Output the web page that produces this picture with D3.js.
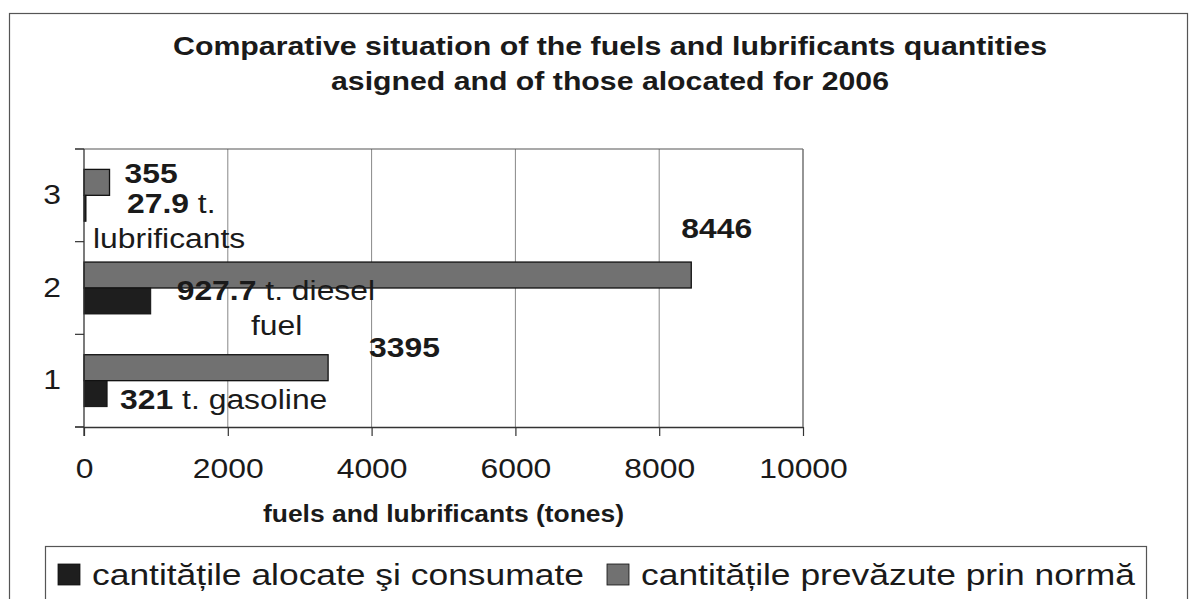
<!DOCTYPE html>
<html>
<head>
<meta charset="utf-8">
<script src="https://cdn.jsdelivr.net/npm/d3@7"></script>
<style>
  body { margin: 0; background: #fff; }
  svg { font-family: "Liberation Sans", Arial, sans-serif; display: block; }
</style>
</head>
<body>
<div class="chart-holder"></div>
<script>
// data
const categories = ["1", "2", "3"];
const seriesNames = ["cantitățile alocate şi consumate", "cantitățile prevăzute prin normă"];
const allocated = [321, 927.7, 27.9];
const norm = [3395, 8446, 355];
const xTicks = [0, 2000, 4000, 6000, 8000, 10000];
const titleLines = [
  "Comparative situation of the fuels and lubrificants quantities",
  "asigned and of those alocated for 2006"
];
const xAxisTitle = "fuels and lubrificants (tones)";
const normLabels = ["3395", "8446", "355"];
const allocatedLabels = [["321", " t. gasoline"], ["927.7", " t. diesel"], ["27.9", " t."]];
const extraLabels = ["", "fuel", "lubrificants"];

function chart() {
  const width = 1193;
  const height = 599;
  const kx = 1.18; // the scan is a bit wider than the font

  const svg = d3.select(".chart-holder")
    .append("svg")
    .attr("width", width)
    .attr("height", height);

  // widen text horizontally like the scanned original
  function stretch(sel, k) {
    sel.each(function () {
      const w = this.getComputedTextLength();
      d3.select(this).attr("textLength", w * k).attr("lengthAdjust", "spacingAndGlyphs");
    });
  }

  // outer frame
  svg.append("rect")
    .attr("x", 9.5).attr("y", 13.5)
    .attr("width", 1178).attr("height", 600)
    .attr("fill", "none").attr("stroke", "#555").attr("stroke-width", 1.2);

  // title
  const titleLen = [874, 558];
  svg.selectAll(".title")
    .data(titleLines)
    .join("text")
    .attr("class", "title")
    .attr("x", 610)
    .attr("y", (d, i) => 55 + i * 35)
    .attr("text-anchor", "middle")
    .attr("font-size", 26)
    .attr("font-weight", "bold")
    .attr("fill", "#1a1a1a")
    .attr("textLength", (d, i) => titleLen[i])
    .attr("lengthAdjust", "spacingAndGlyphs")
    .text(d => d);

  const plot = { left: 84, right: 803, top: 149, bottom: 427 };

  const x = d3.scaleLinear()
    .domain([0, 10000])
    .range([plot.left, plot.right]);

  const y = d3.scaleBand()
    .domain(categories)
    .range([plot.bottom, plot.top])
    .paddingInner(0.44)
    .paddingOuter(0.22);

  const sub = d3.scaleBand()
    .domain(["norm", "allocated"])
    .range([0, y.bandwidth()]);

  // gridlines
  svg.append("g")
    .selectAll("line")
    .data(xTicks.slice(1))
    .join("line")
    .attr("x1", d => x(d)).attr("x2", d => x(d))
    .attr("y1", plot.top).attr("y2", plot.bottom)
    .attr("stroke", "#888").attr("stroke-width", 1);

  // plot top edge (continues into the top category tick)
  svg.append("line")
    .attr("x1", plot.left - 9).attr("x2", plot.right)
    .attr("y1", plot.top).attr("y2", plot.top)
    .attr("stroke", "#555").attr("stroke-width", 1.2);

  // bars
  const rows = categories.map((c, i) => ({ cat: c, norm: norm[i], allocated: allocated[i] }));

  svg.append("g")
    .selectAll("rect")
    .data(rows)
    .join("rect")
    .attr("x", x(0))
    .attr("y", d => y(d.cat) + sub("norm"))
    .attr("width", d => x(d.norm) - x(0))
    .attr("height", sub.bandwidth())
    .attr("fill", "#717171")
    .attr("stroke", "#111")
    .attr("stroke-width", 1.3);

  svg.append("g")
    .selectAll("rect")
    .data(rows)
    .join("rect")
    .attr("x", x(0))
    .attr("y", d => y(d.cat) + sub("allocated"))
    .attr("width", d => x(d.allocated) - x(0))
    .attr("height", sub.bandwidth())
    .attr("fill", "#1e1e1e")
    .attr("stroke", "#111")
    .attr("stroke-width", 1);

  // x axis
  const xAxis = svg.append("g")
    .attr("transform", `translate(0,${plot.bottom})`)
    .call(d3.axisBottom(x).tickValues(xTicks).tickSize(9).tickSizeOuter(0).tickPadding(23).tickFormat(d3.format("d")));
  xAxis.select(".domain").attr("stroke", "#333").attr("stroke-width", 1.3);
  xAxis.selectAll(".tick line").attr("stroke", "#333").attr("stroke-width", 1.2);
  xAxis.selectAll("text")
    .attr("font-size", 27)
    .attr("fill", "#1a1a1a")
    .call(stretch, kx);

  // bottom edge continues into the lowest category tick
  svg.append("line")
    .attr("x1", plot.left - 9).attr("x2", plot.left)
    .attr("y1", plot.bottom).attr("y2", plot.bottom)
    .attr("stroke", "#333").attr("stroke-width", 1.2);

  // right edge of plot area
  svg.append("line")
    .attr("x1", plot.right).attr("x2", plot.right)
    .attr("y1", plot.top).attr("y2", plot.bottom)
    .attr("stroke", "#777").attr("stroke-width", 1.2);

  // y axis with ticks between categories
  const yAxis = svg.append("g")
    .attr("transform", `translate(${plot.left},0)`)
    .call(d3.axisLeft(y).tickSize(0).tickPadding(23));
  yAxis.select(".domain").remove();
  yAxis.selectAll("text")
    .attr("font-size", 27)
    .attr("fill", "#1a1a1a")
    .call(stretch, kx);

  const step = y.step();
  const boundaries = d3.range(categories.length + 1).map(i => plot.bottom - i * step);
  svg.append("g")
    .selectAll("line")
    .data(boundaries)
    .join("line")
    .attr("x1", plot.left - 9).attr("x2", plot.left)
    .attr("y1", d => d).attr("y2", d => d)
    .attr("stroke", "#333").attr("stroke-width", 1.2);

  svg.append("line")
    .attr("x1", plot.left).attr("x2", plot.left)
    .attr("y1", plot.top).attr("y2", plot.bottom + 9)
    .attr("stroke", "#333").attr("stroke-width", 1.3);

  // data labels, dragged around by hand in the original
  const normPos = [[41, 2], [-10, -24], [15, 14]];
  const allocPos = [[13, 54], [26, 38], [41, 44]];
  const extraPos = [null, [251, 73], [93, 79]];

  const labels = svg.append("g").attr("font-size", 27).attr("fill", "#1a1a1a");

  rows.forEach((d, i) => {
    const y0 = y(d.cat);
    labels.append("text")
      .attr("x", x(d.norm) + normPos[i][0])
      .attr("y", y0 + normPos[i][1])
      .attr("font-weight", "bold")
      .text(normLabels[i])
      .call(stretch, kx);

    const t = labels.append("text")
      .attr("x", x(d.allocated) + allocPos[i][0])
      .attr("y", y0 + allocPos[i][1]);
    t.append("tspan").attr("font-weight", "bold").text(allocatedLabels[i][0]);
    t.append("tspan").text(allocatedLabels[i][1]);
    t.call(stretch, kx);

    if (extraLabels[i]) {
      labels.append("text")
        .attr("x", extraPos[i][0])
        .attr("y", y0 + extraPos[i][1])
        .text(extraLabels[i])
        .call(stretch, kx);
    }
  });

  // x axis title
  svg.append("text")
    .attr("x", (plot.left + plot.right) / 2)
    .attr("y", 522)
    .attr("text-anchor", "middle")
    .attr("font-size", 23)
    .attr("font-weight", "bold")
    .attr("fill", "#1a1a1a")
    .attr("textLength", 361)
    .attr("lengthAdjust", "spacingAndGlyphs")
    .text(xAxisTitle);

  // legend
  const legend = svg.append("g");
  legend.append("rect")
    .attr("x", 45.5).attr("y", 546.5)
    .attr("width", 1101).attr("height", 80)
    .attr("fill", "#fff").attr("stroke", "#555").attr("stroke-width", 1.2);

  const legendColors = ["#1e1e1e", "#717171"];
  const legendX = [58, 607];
  seriesNames.forEach((name, i) => {
    legend.append("rect")
      .attr("x", legendX[i]).attr("y", 564)
      .attr("width", 22).attr("height", 21)
      .attr("fill", legendColors[i])
      .attr("stroke", "#111").attr("stroke-width", 0.8);
    legend.append("text")
      .attr("x", legendX[i] + 34)
      .attr("y", 585)
      .attr("font-size", 30)
      .attr("fill", "#1a1a1a")
      .text(name)
      .call(stretch, kx);
  });
}

chart();
</script>
</body>
</html>
